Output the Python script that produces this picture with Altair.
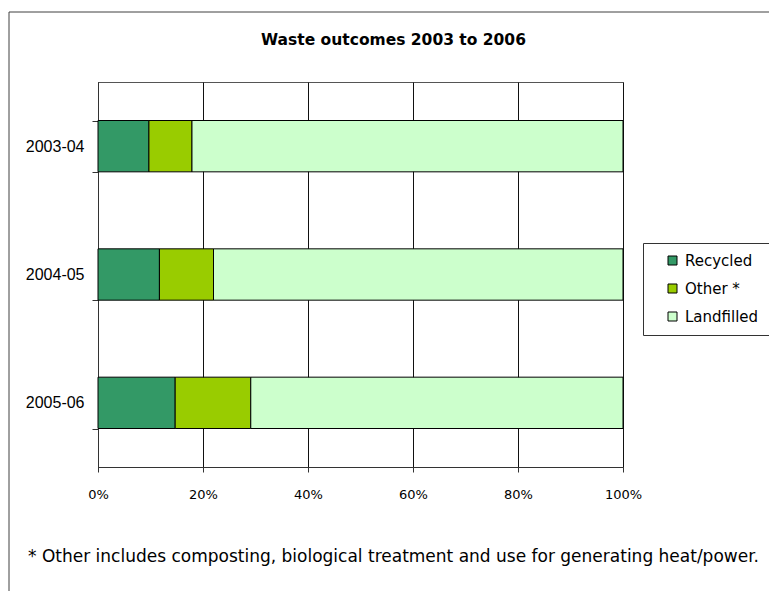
import altair as alt
import pandas as pd

# Share of waste by outcome, per financial year (percent of total)
years = ["2003-04", "2004-05", "2005-06"]
outcomes = ["Recycled", "Other *", "Landfilled"]
recycled = [9.7, 11.7, 14.7]
other = [8.2, 10.3, 14.4]
landfilled = [82.1, 78.0, 70.9]
colors = ["#339966", "#99CC00", "#CCFFCC"]

footnote = "* Other includes composting, biological treatment and use for generating heat/power."

rows = []
for i, y in enumerate(years):
    for k, (name, vals) in enumerate(zip(outcomes, [recycled, other, landfilled])):
        rows.append({"year": y, "outcome": name, "share": vals[i], "order": k})
df = pd.DataFrame(rows)

text_font = "DejaVu Sans"

bars = alt.Chart(df).mark_bar(stroke="black", strokeWidth=1).encode(
    y=alt.Y(
        "year:N",
        sort=years,
        title=None,
        scale=alt.Scale(paddingInner=0.6, paddingOuter=0.3),
        axis=alt.Axis(
            tickBand="extent",
            labelFont="Liberation Sans",
            labelFontSize=16,
            labelColor="#000",
            labelPadding=8,
            tickSize=6,
            tickColor="#333",
            domainColor="#333",
            grid=False,
        ),
    ),
    x=alt.X(
        "share:Q",
        stack="normalize",
        scale=alt.Scale(domain=[0, 1], nice=False),
        axis=alt.Axis(
            format=".0%",
            values=[0, 0.2, 0.4, 0.6, 0.8, 1.0],
            labelFont=text_font,
            labelFontSize=13,
            labelColor="#000",
            labelPadding=16,
            tickSize=5,
            tickColor="#333",
            domainColor="#333",
            grid=True,
            gridColor="#111",
            gridWidth=1,
            gridOpacity=1,
            title=footnote,
            titleFont=text_font,
            titleFontSize=17,
            titleFontWeight="normal",
            titleColor="#000",
            titleX=295,
            titleY=89,
            titleAlign="center",
            titleBaseline="middle",
            labelFlush=False,
        ),
    ),
    color=alt.Color(
        "outcome:N",
        sort=outcomes,
        scale=alt.Scale(domain=outcomes, range=colors),
        legend=alt.Legend(
            title=None,
            orient="none",
            legendX=545,
            legendY=161,
            direction="vertical",
            fillColor="white",
            strokeColor="#333",
            padding=10,
            symbolOffset=12,
            symbolType="square",
            symbolSize=81,
            symbolStrokeColor="black",
            symbolStrokeWidth=1,
            symbolOpacity=1,
            labelFont=text_font,
            labelFontSize=15,
            labelColor="#000",
            labelOffset=5,
            rowPadding=12,
        ),
    ),
    order=alt.Order("order:Q"),
)

# Outer chart-area frame, running off the right and bottom edges
frame = alt.Chart(pd.DataFrame({"f": [0]})).mark_rect(
    fill=None, stroke="#404040", strokeWidth=1
).encode(
    x=alt.value(-89), x2=alt.value(800), y=alt.value(-70), y2=alt.value(700)
)

chart = (
    alt.layer(frame, bars)
    .properties(
        width=525,
        height=385,
        autosize=alt.AutoSizeParams(type="none"),
        padding={"left": 98, "top": 82, "right": 146, "bottom": 124},
        title=alt.TitleParams(
            "Waste outcomes 2003 to 2006",
            font=text_font,
            fontSize=15.5,
            fontWeight="bold",
            color="#000",
            anchor="middle",
            dx=33,
            dy=70,
            offset=33,
        ),
        background="white",
    )
    .configure_view(stroke="#555", strokeWidth=1)
)

chart.save("out.html", embed_options={"renderer": "svg", "actions": False})
